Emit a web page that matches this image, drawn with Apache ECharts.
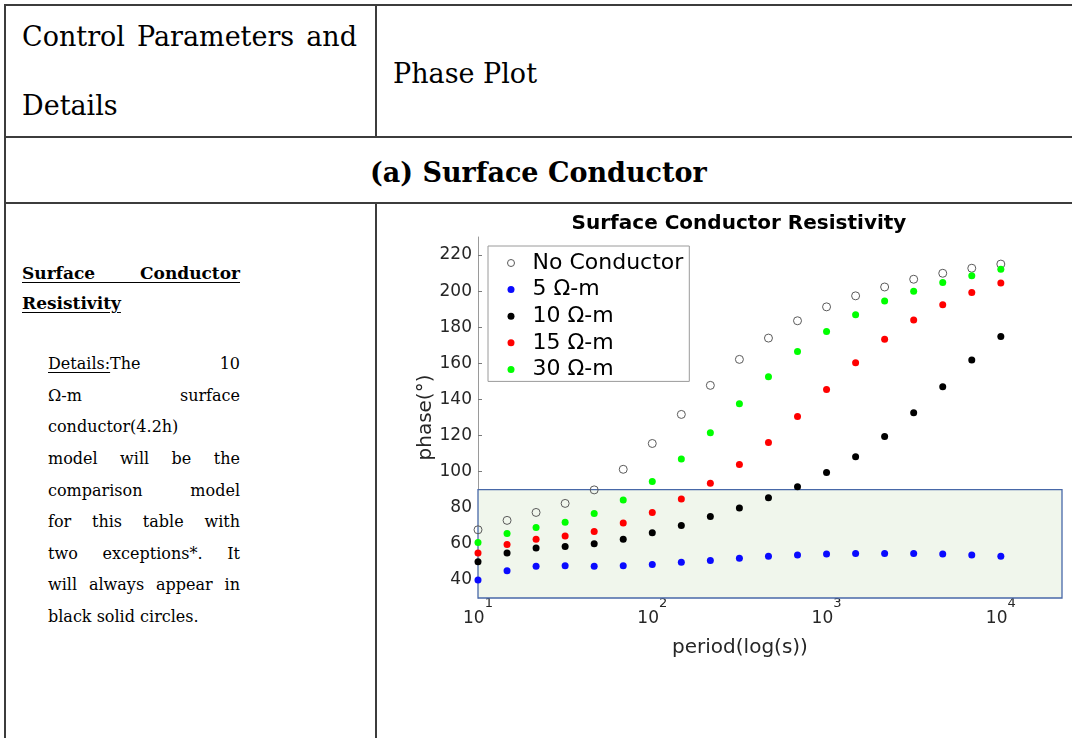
<!DOCTYPE html>
<html>
<head>
<meta charset="utf-8">
<script src="https://cdn.jsdelivr.net/npm/echarts@6/dist/echarts.min.js"></script>
<style>
  html, body { margin: 0; padding: 0; width: 1072px; height: 738px; overflow: hidden; background: #fff; }
  .rule { position: absolute; background: #3c3c3c; }
  .t { position: absolute; font-family: 'DejaVu Serif', serif; color: #000; line-height: 1; }
  .nw { white-space: nowrap; }
  .j { text-align: justify; text-align-last: justify; }
  .hd { font-size: 27px; }
  .sub { font-size: 17px; font-weight: bold; text-decoration: underline; text-underline-offset: 3px; }
  .dt { font-size: 16px; }
  #chart { position: absolute; left: 0; top: 0; width: 1072px; height: 738px; }
</style>
</head>
<body>
<!-- table rules -->
<div class="rule" style="left:4px;top:4px;width:1068px;height:1.5px"></div>
<div class="rule" style="left:4px;top:4px;width:1.5px;height:734px"></div>
<div class="rule" style="left:375px;top:4px;width:1.5px;height:132px"></div>
<div class="rule" style="left:4px;top:136px;width:1068px;height:1.5px"></div>
<div class="rule" style="left:4px;top:202px;width:1068px;height:1.5px"></div>
<div class="rule" style="left:375px;top:202px;width:1.5px;height:536px"></div>

<!-- header row -->
<div class="t hd j" style="left:22px;top:23px;width:335px">Control Parameters and</div>
<div class="t hd nw" style="left:22px;top:92px">Details</div>
<div class="t hd nw" style="left:393px;top:60px">Phase Plot</div>
<div class="t hd nw" style="left:370px;top:159px;font-weight:bold">(a) Surface Conductor</div>

<!-- left column text -->
<div class="t sub j" style="left:22px;top:265px;width:218px">Surface Conductor</div>
<div class="t sub nw" style="left:22px;top:295px">Resistivity</div>

<div class="t dt j" style="left:48px;top:356px;width:192px"><u style="text-underline-offset:3px">Details:</u>The 10</div>
<div class="t dt j" style="left:48px;top:388px;width:192px">Ω-m surface</div>
<div class="t dt nw" style="left:48px;top:419px">conductor(4.2h)</div>
<div class="t dt j" style="left:48px;top:451px;width:192px">model will be the</div>
<div class="t dt j" style="left:48px;top:483px;width:192px">comparison model</div>
<div class="t dt j" style="left:48px;top:514px;width:192px">for this table with</div>
<div class="t dt j" style="left:48px;top:546px;width:192px">two exceptions*. It</div>
<div class="t dt j" style="left:48px;top:577px;width:192px">will always appear in</div>
<div class="t dt nw" style="left:48px;top:609px">black solid circles.</div>

<div id="chart"></div>

<script>
// Period samples (s), six per decade
const periods = [10, 14.68, 21.54, 31.62, 46.42, 68.13, 100, 146.8, 215.4, 316.2,
                 464.2, 681.3, 1000, 1468, 2154, 3162, 4642, 6813, 10000];

// Phase (degrees) for each model
const phaseNoConductor = [67.8, 73.0, 77.4, 82.4, 89.9, 101.3, 115.6, 131.7, 147.8, 162.2,
                          174.0, 183.6, 191.3, 197.4, 202.3, 206.6, 209.9, 212.7, 215.0];
const phase5 = [40.0, 45.1, 47.6, 47.9, 47.6, 47.9, 48.5, 49.8, 50.8, 52.0,
                53.1, 53.8, 54.4, 54.7, 54.7, 54.7, 54.4, 53.8, 53.1];
const phase10 = [50.1, 54.9, 57.7, 58.6, 60.1, 62.5, 66.1, 70.2, 75.1, 79.8,
                 85.5, 91.7, 99.5, 108.3, 119.5, 132.6, 147.1, 161.9, 174.9];
const phase15 = [54.9, 59.7, 62.5, 64.3, 66.9, 71.5, 77.4, 84.9, 93.6, 103.9,
                 116.2, 130.6, 145.5, 160.4, 173.3, 184.0, 192.4, 199.2, 204.5];
const phase30 = [60.8, 65.8, 69.1, 72.0, 76.8, 84.3, 94.5, 107.0, 121.6, 137.6,
                 152.6, 166.5, 177.7, 186.9, 194.5, 200.0, 204.8, 208.6, 212.1];

const seriesNames = ['No Conductor', '5 Ω-m', '10 Ω-m', '15 Ω-m', '30 Ω-m'];

// Axis ticks: x labels are written as base 10 with a superscript exponent
const yTickValues = [40, 60, 80, 100, 120, 140, 160, 180, 200, 220];
const xTickValues = [10, 100, 1000, 10000];
const xTickExponents = ['1', '2', '3', '4'];

// Axis limits and the shaded low-phase band
const xLimits = [10, 22440];
const yLimits = [30, 230];
const bandPeriod = [10, 22440];
const bandPhase = [30, 90];

// log-axis minor ticks: 2..9 within each decade
const xMinorTicks = [];
for (let d = 10; d <= xLimits[1]; d *= 10) {
  for (let k = 2; k <= 9; k++) {
    if (k * d <= xLimits[1]) xMinorTicks.push(k * d);
  }
}

const FONT = 'DejaVu Sans';
const TICK_GREY = '#262626';
const pairs = values => periods.map((p, i) => [p, values[i]]);

const chart = echarts.init(document.getElementById('chart'), null, { renderer: 'canvas' });

const dot = (name, values, color) => ({
  name, type: 'scatter', symbol: 'circle', symbolSize: 7,
  itemStyle: { color, opacity: 1 }, data: pairs(values)
});

// Two-line label: the exponent sits on the first line, to the right of an
// invisible copy of the base; the base sits on the second line.
const powerLabel = exp => '{gb|10}{s|' + exp + '}\n{b|10}{gs|' + exp + '}';

chart.setOption({
  animation: false,
  backgroundColor: 'transparent',
  textStyle: { fontFamily: FONT },
  title: {
    text: 'Surface Conductor Resistivity',
    left: 739, top: 214, textAlign: 'center', padding: 0,
    textStyle: { fontFamily: FONT, fontWeight: 'bold', fontSize: 20, color: '#000' }
  },
  legend: {
    orient: 'vertical', left: 488, top: 246,
    padding: [6, 6, 1, 19], itemWidth: 33, itemHeight: 7, itemGap: 4.6,
    backgroundColor: '#fff', borderColor: '#9a9a9a', borderWidth: 1, borderRadius: 0,
    textStyle: { fontFamily: FONT, fontSize: 22, lineHeight: 22, color: '#000' },
    data: [
      { name: seriesNames[0], icon: 'circle',
        itemStyle: { color: '#fff', borderColor: '#5a5a5a', borderWidth: 1, opacity: 1 } },
      { name: seriesNames[1], icon: 'circle' },
      { name: seriesNames[2], icon: 'circle' },
      { name: seriesNames[3], icon: 'circle' },
      { name: seriesNames[4], icon: 'circle' }
    ]
  },
  grid: { left: 478, right: 10, top: 237, bottom: 140, containLabel: false, outerBoundsMode: 'none' },
  xAxis: [
    {
      type: 'log', logBase: 10, min: xLimits[0], max: xLimits[1],
      name: 'period(log(s))', nameLocation: 'middle', nameGap: 40, nameMoveOverlap: false,
      nameTextStyle: { fontFamily: FONT, fontSize: 20, color: TICK_GREY, padding: [0, 60, 0, 0] },
      axisLine: { show: false },
      axisTick: { show: true, inside: true, length: 5, customValues: xTickValues,
                  lineStyle: { color: '#7a7a7a', width: 1 } },
      axisLabel: {
        customValues: xTickValues, margin: 0,
        formatter: v => {
          const i = xTickValues.findIndex(t => Math.abs(t - v) < t * 1e-6);
          return i >= 0 ? powerLabel(xTickExponents[i]) : '';
        },
        rich: {
          gb: { fontFamily: FONT, fontSize: 17, lineHeight: 12, color: 'rgba(0,0,0,0)' },
          s:  { fontFamily: FONT, fontSize: 13, lineHeight: 12, color: TICK_GREY },
          b:  { fontFamily: FONT, fontSize: 17, lineHeight: 17, color: TICK_GREY },
          gs: { fontFamily: FONT, fontSize: 13, lineHeight: 17, color: 'rgba(0,0,0,0)' }
        }
      },
      splitLine: { show: false }, minorTick: { show: false }
    },
    {
      type: 'log', logBase: 10, min: xLimits[0], max: xLimits[1], position: 'bottom',
      axisLine: { show: false }, axisLabel: { show: false },
      axisTick: { show: true, inside: true, length: 3, customValues: xMinorTicks,
                  lineStyle: { color: '#7a7a7a', width: 1 } },
      splitLine: { show: false }
    }
  ],
  yAxis: {
    type: 'value', min: yLimits[0], max: yLimits[1],
    name: 'phase(°)', nameLocation: 'middle', nameGap: 42, nameRotate: 90, nameMoveOverlap: false,
    nameTextStyle: { fontFamily: FONT, fontSize: 20, color: TICK_GREY },
    axisLine: { show: true, lineStyle: { color: '#9a9a9a', width: 1 } },
    axisTick: { show: true, inside: true, length: 4, customValues: yTickValues,
                lineStyle: { color: '#7a7a7a', width: 1 } },
    axisLabel: { customValues: yTickValues, fontFamily: FONT, fontSize: 17, color: TICK_GREY,
                 margin: 6, lineHeight: 21, verticalAlign: 'middle' },
    splitLine: { show: false }
  },
  series: [
    {
      name: 'band', type: 'scatter', data: [], silent: true,
      markArea: {
        silent: true,
        itemStyle: { color: '#f0f6ec', borderColor: '#4868a8', borderWidth: 1.3 },
        data: [[{ coord: [bandPeriod[0], bandPhase[0]] }, { coord: [bandPeriod[1], bandPhase[1]] }]]
      }
    },
    {
      name: seriesNames[0], type: 'scatter', symbol: 'circle', symbolSize: 8,
      itemStyle: { color: 'rgba(255,255,255,0)', borderColor: '#5a5a5a', borderWidth: 1, opacity: 1 },
      data: pairs(phaseNoConductor)
    },
    dot(seriesNames[1], phase5, '#0a0aff'),
    dot(seriesNames[2], phase10, '#000000'),
    dot(seriesNames[3], phase15, '#ff0000'),
    dot(seriesNames[4], phase30, '#00ff00')
  ]
});
</script>
</body>
</html>
